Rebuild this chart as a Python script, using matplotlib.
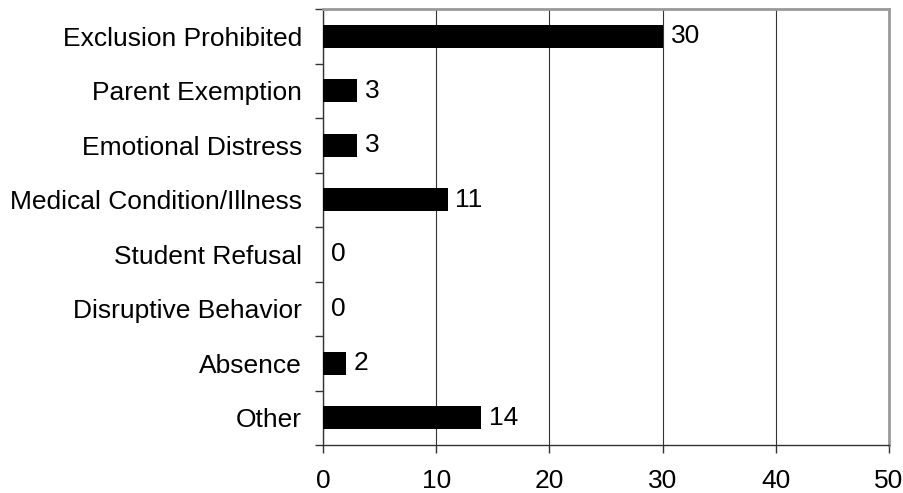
import matplotlib.pyplot as plt
import numpy as np
from matplotlib.ticker import FixedLocator

plt.rcParams['font.family'] = ['Liberation Sans', 'DejaVu Sans']

categories = [
    'Exclusion Prohibited',
    'Parent Exemption',
    'Emotional Distress',
    'Medical Condition/Illness',
    'Student Refusal',
    'Disruptive Behavior',
    'Absence',
    'Other',
]
counts = [30, 3, 3, 11, 0, 0, 2, 14]
x_ticks = [0, 10, 20, 30, 40, 50]

FS = 19

fig = plt.figure(figsize=(9.04, 4.93), dpi=100)
ax = fig.add_axes([323 / 904, 48 / 493, 566 / 904, 436 / 493])

y = np.arange(len(categories))
ax.barh(y, counts, height=0.43, color='black', zorder=3)

for yi, v in zip(y, counts):
    ax.text(v + 0.7, yi, str(v), va='center', ha='left', fontsize=FS)

ax.set_xlim(0, 50)
ax.set_ylim(len(categories) - 0.5, -0.5)
ax.set_xticks(x_ticks)
ax.set_xticklabels([str(t) for t in x_ticks], fontsize=FS)
ax.set_yticks(y)
ax.set_yticklabels(categories, fontsize=FS)

# tick marks sit on the category boundaries, labels at the centres
ax.yaxis.set_minor_locator(FixedLocator(np.arange(-0.5, len(categories), 1.0)))
ax.tick_params(axis='y', which='major', length=0, pad=15)
ax.tick_params(axis='y', which='minor', length=6, width=1, color='#333333')
ax.tick_params(axis='x', which='major', length=6, width=1, color='#333333', pad=11)

ax.grid(axis='x', color='#333333', linewidth=0.8, zorder=0)

for side in ('left', 'bottom'):
    ax.spines[side].set_color('#333333')
    ax.spines[side].set_linewidth(1)
for side in ('top', 'right'):
    ax.spines[side].set_color('#999999')
    ax.spines[side].set_linewidth(2)

fig.savefig('out.png', dpi=100)
